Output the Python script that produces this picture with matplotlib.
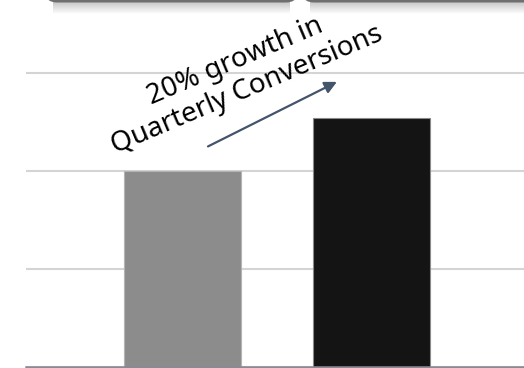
import matplotlib
matplotlib.use("Agg")
import matplotlib.pyplot as plt
import numpy as np
from matplotlib.patches import FancyBboxPatch

plt.rcParams.update({
    "font.family": ["Noto Sans", "DejaVu Sans"],
})

# quarterly conversions
quarters = ["Q1", "Q2"]
conversions = [200, 254]
bar_colors = ["#8c8c8c", "#141414"]
grid_ticks = [0, 100, 200, 300]

W, H = 524, 368
fig = plt.figure(figsize=(W / 100, H / 100), dpi=100)

# dark header strips with a soft shadow along the top edge
bg = fig.add_axes([0, 0, 1, 1], zorder=0)
bg.set_xlim(0, W)
bg.set_ylim(H, 0)
bg.axis("off")
shadow = np.linspace(0.78, 1.0, 40)[:, None] * np.ones((1, 10))
for x0, x1 in [(45, 298), (302, 540)]:
    bg.imshow(np.dstack([shadow] * 3), extent=(x0 + 8, x1 - 8, 14, 2),
              aspect="auto", interpolation="bilinear")
    bg.add_patch(FancyBboxPatch((x0, -20), x1 - x0, 22.5,
                                boxstyle="round,pad=0,rounding_size=12",
                                fc="#6f6f6f", ec="none"))

ax = fig.add_axes([26 / W, 1.5 / H, (W - 26) / W, 366.5 / H], zorder=1)
ax.patch.set_alpha(0)
x = np.arange(len(quarters))
ax.bar(x, conversions, width=0.62, color=bar_colors,
       edgecolor=["#b4b4b4", "#8a8a8a"], linewidth=0.8, zorder=3)

ax.set_xlim(-0.828, 1.807)
ax.set_ylim(0, 374.7)
ax.set_yticks(grid_ticks)
ax.grid(axis="y", color="#d4d4d4", linewidth=1.5, zorder=0)
ax.tick_params(left=False, bottom=False, labelleft=False, labelbottom=False)
for side in ["top", "right", "left"]:
    ax.spines[side].set_visible(False)
ax.spines["bottom"].set_color("#8a8a92")
ax.spines["bottom"].set_linewidth(1.8)
ax.spines["bottom"].set_zorder(4)

# growth callout
ax.annotate("", xy=(0.817, 291), xytext=(0.135, 225),
            arrowprops=dict(arrowstyle="-|>", color="#44546a", lw=1.6,
                            mutation_scale=18, shrinkA=0, shrinkB=0),
            zorder=5)
ax.text(0.31, 297, "20% growth in\nQuarterly Conversions", rotation=23,
        rotation_mode="anchor", ha="center", va="center", fontsize=20,
        linespacing=1.15, color="#000000", zorder=6)

fig.savefig("out.png", dpi=100)
